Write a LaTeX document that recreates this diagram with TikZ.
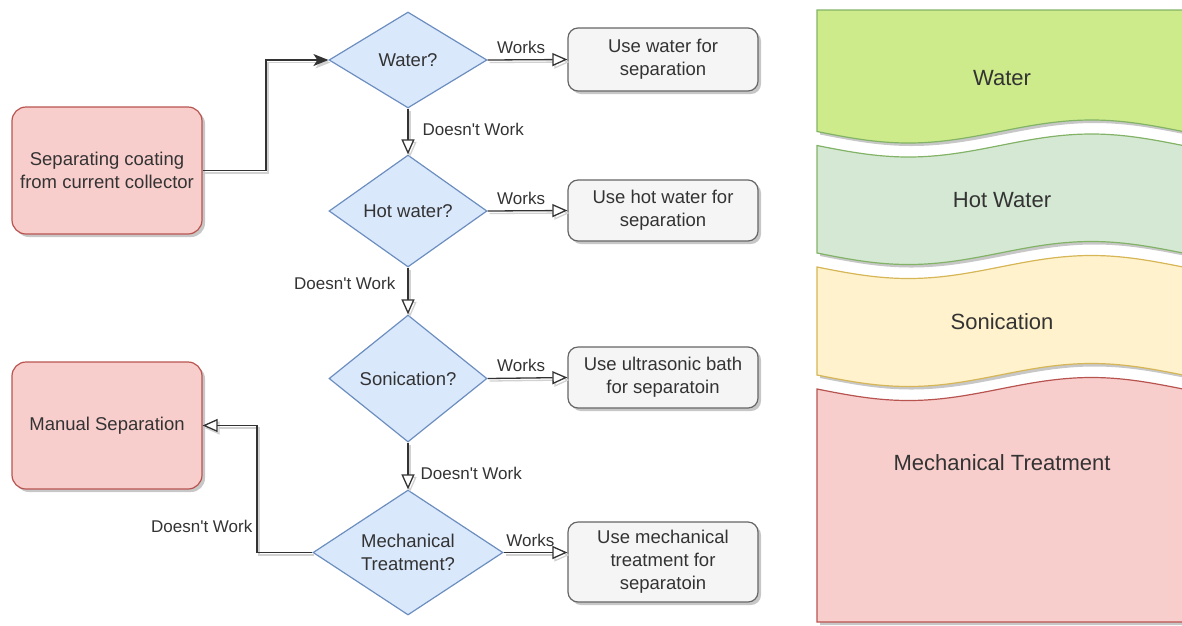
\documentclass[tikz,border=0pt]{standalone}
\usepackage{fontspec}
\setmainfont{Liberation Sans}
\usetikzlibrary{shapes.geometric,arrows.meta,shadows}
\definecolor{redfill}{HTML}{F8CECC}
\definecolor{redline}{HTML}{B85450}
\definecolor{bluefill}{HTML}{DAE8FC}
\definecolor{blueline}{HTML}{6C8EBF}
\definecolor{grayfill}{HTML}{F5F5F5}
\definecolor{grayline}{HTML}{666666}
\definecolor{limefill}{HTML}{CDEB8B}
\definecolor{greenfill}{HTML}{D5E8D4}
\definecolor{greenline}{HTML}{82B366}
\definecolor{yellowfill}{HTML}{FFF2CC}
\definecolor{yellowline}{HTML}{D6B656}
\definecolor{textdark}{HTML}{333333}
\newcommand{\wavelr}[1]{(817,#1) sin (908.5,#1+11.5) cos (1000,#1) sin (1091.5,#1-11.5) cos (1183,#1)}
\newcommand{\waverl}[1]{(1183,#1) sin (1091.5,#1-11.5) cos (1000,#1) sin (908.5,#1+11.5) cos (817,#1)}
\newcommand{\nowork}{Doesn\textquotesingle t Work}
\begin{document}
\begin{tikzpicture}[x=1pt,y=-1pt,
  shade3/.style={drop shadow={shadow xshift=3pt,shadow yshift=-3pt,fill=black,opacity=0.22}},
  startbox/.style={draw=redline,fill=redfill,line width=1.2pt,rounded corners=14pt,
    minimum width=190pt,minimum height=127pt,align=center,text=textdark,
    font=\fontsize{18.5}{23}\selectfont,shade3},
  decision/.style={shape=diamond,draw=blueline,fill=bluefill,line width=1.2pt,aspect=1.6,
    inner sep=0pt,minimum width=158pt,align=center,text=textdark,
    font=\fontsize{18.5}{23}\selectfont},
  result/.style={draw=grayline,fill=grayfill,line width=1.2pt,rounded corners=10pt,
    minimum width=190pt,minimum height=61pt,align=center,text=textdark,
    font=\fontsize{18.5}{23}\selectfont,shade3},
  flow/.style={draw=textdark,line width=1.3pt,
    preaction={draw=black!18,line width=1.3pt,transform canvas={shift={(2pt,-2.5pt)}}}},
  opentip/.style={-{Triangle[open,fill=white,length=15pt,width=13pt]}},
  dlabel/.style={inner sep=2pt,text=textdark,font=\fontsize{17}{20}\selectfont},
  band/.style={line width=1.2pt,shade3},
  bandtext/.style={text=textdark,font=\fontsize{22}{26}\selectfont}]
  \useasboundingbox (0,0) rectangle (1182,625);

  \node[startbox] (start) at (107,170.5) {Separating coating\\from current collector};
  \node[startbox] (manual) at (107,425.5) {Manual Separation};

  \node[decision,minimum height=96pt] (water) at (408,60) {Water?};
  \node[decision,minimum height=112pt] (hot) at (408,211) {Hot water?};
  \node[decision,minimum height=127pt] (sonic) at (408,378.5) {Sonication?};
  \node[decision,minimum width=190pt,minimum height=125pt] (mech) at (408,552.5) {Mechanical\\Treatment?};

  \node[result,minimum height=63pt] (usewater) at (663,59.5) {Use water for\\separation};
  \node[result] (usehot) at (663,210.5) {Use hot water for\\separation};
  \node[result] (usesonic) at (663,377.5) {Use ultrasonic bath\\for separatoin};
  \node[result,minimum height=80pt] (usemech) at (663,562) {Use mechanical\\treatment for\\separatoin};

  \coordinate (kink1) at (266,0);
  \coordinate (kink2) at (257,0);

  \draw[flow,-{Stealth[length=15pt,width=12pt,inset=4pt]}] (start.east) -- (start.east -| kink1) |- (water.west);
  \draw[flow,opentip] (water.south) -- node[dlabel,pos=0.45,anchor=west,xshift=12pt] {\nowork} (hot.north);
  \draw[flow,opentip] (hot.south) -- node[dlabel,pos=0.33,anchor=east,xshift=-10pt] {\nowork} (sonic.north);
  \draw[flow,opentip] (sonic.south) -- node[dlabel,pos=0.65,anchor=west,xshift=10pt] {\nowork} (mech.north);
  \draw[flow,opentip] (mech.west) -- (mech.west -| kink2) node[dlabel,anchor=south east,xshift=-2pt,yshift=17pt] {\nowork} |- (manual.east);

  \draw[flow,opentip] (water.east) -- node[dlabel,pos=0.42,above=3.5pt] {Works} (usewater.west);
  \draw[flow,opentip] (hot.east) -- node[dlabel,pos=0.42,above=3.5pt] {Works} (usehot.west);
  \draw[flow,opentip] (sonic.east) -- node[dlabel,pos=0.42,above=3.5pt] {Works} (usesonic.west);
  \draw[flow,opentip] (mech.east) -- node[dlabel,pos=0.42,above=3.5pt] {Works} (mech.east -| usemech.west);

  \begin{scope}
    \clip (0,0) rectangle (1182,625);
    \draw[band,draw=greenline,fill=limefill] (817,10) -- (1183,10) -- \waverl{131.5} -- cycle;
    \draw[band,draw=greenline,fill=greenfill] \wavelr{145.5} -- \waverl{253} -- cycle;
    \draw[band,draw=yellowline,fill=yellowfill] \wavelr{267} -- \waverl{375} -- cycle;
    \draw[band,draw=redline,fill=redfill] \wavelr{389} -- (1183,622) -- (817,622) -- cycle;
  \end{scope}
  \node[bandtext] (twater) at (1002,78) {Water};
  \node[bandtext] (thot) at (1002,200) {Hot Water};
  \node[bandtext] (tsonic) at (1002,322) {Sonication};
  \node[bandtext] (tmech) at (1002,463) {Mechanical Treatment};
\end{tikzpicture}
\end{document}
